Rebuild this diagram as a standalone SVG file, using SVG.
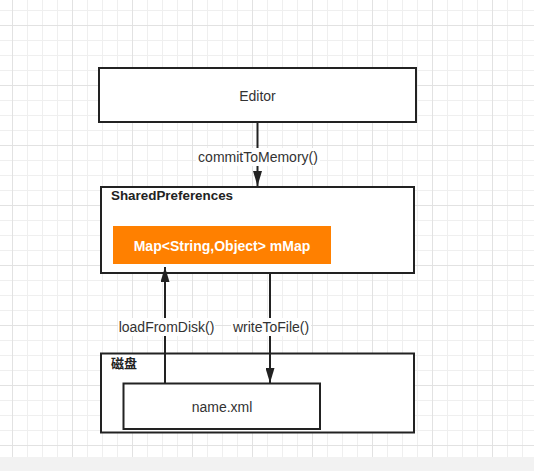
<svg xmlns="http://www.w3.org/2000/svg" width="534" height="471" viewBox="0 0 534 471">
<defs>
<pattern id="grid" x="12" y="25" width="60" height="60" patternUnits="userSpaceOnUse">
<path d="M15.5 0V60M30.5 0V60M45.5 0V60M0 15.5H60M0 30.5H60M0 45.5H60" stroke="#efefef" stroke-width="1" fill="none"/>
<path d="M0.5 0V60M0 0.5H60" stroke="#e2e2e2" stroke-width="1" fill="none"/>
</pattern>
<marker id="arrow" viewBox="0 0 15 9" refX="15" refY="4.5" markerWidth="15" markerHeight="9" markerUnits="userSpaceOnUse" orient="auto">
<path d="M0 0L15 4.5L0 9z" fill="#222"/>
</marker>
<style>
.box{fill:#fff;stroke:#222;stroke-width:2}
.t{font-family:"Liberation Sans",Arial,sans-serif;font-size:14px;fill:#333}
.c{text-anchor:middle}
.b{font-weight:bold;font-size:13.4px;fill:#222}
.edge{stroke:#222;stroke-width:2;fill:none}
.lbg{fill:#fff}
</style>
</defs>
<rect width="534" height="471" fill="#fff"/>
<rect width="534" height="471" fill="url(#grid)"/>
<rect x="0" y="457" width="534" height="14" fill="#f2f2f2"/>

<g id="editor">
<rect class="box" x="99" y="68" width="317" height="54"/>
<text class="t c" x="257.5" y="101">Editor</text>
</g>

<g id="sharedpreferences">
<rect class="box" x="101" y="187" width="313" height="86"/>
<text class="t b" x="111" y="200">SharedPreferences</text>
</g>

<g id="mmap">
<rect x="113" y="226" width="218" height="38" fill="#ff8000"/>
<text class="t c" x="222" y="251" style="font-weight:bold;fill:#fff">Map&lt;String,Object&gt; mMap</text>
</g>

<g id="disk">
<rect class="box" x="101" y="353.5" width="313" height="79"/>
<text class="b" x="111" y="367.5" style="font-family:'Liberation Sans','Noto Sans CJK SC',sans-serif;font-size:13px">磁盘</text>
</g>

<g id="namexml">
<rect class="box" x="123.5" y="383.5" width="196.5" height="45.5"/>
<text class="t c" x="222" y="411.5">name.xml</text>
</g>

<g id="connectors">
<line class="edge" x1="257.5" y1="122" x2="257.5" y2="186" marker-end="url(#arrow)"/>
<rect class="lbg" x="196" y="148" width="124" height="18"/>
<text class="t c" x="258" y="161.5">commitToMemory()</text>

<line class="edge" x1="165" y1="383" x2="165" y2="267" marker-end="url(#arrow)"/>
<rect class="lbg" x="118" y="318" width="97" height="18"/>
<text class="t c" x="166.5" y="331.5">loadFromDisk()</text>

<line class="edge" x1="270" y1="273" x2="270" y2="383" marker-end="url(#arrow)"/>
<rect class="lbg" x="231" y="318" width="80" height="18"/>
<text class="t c" x="271" y="331.5">writeToFile()</text>
</g>
</svg>
